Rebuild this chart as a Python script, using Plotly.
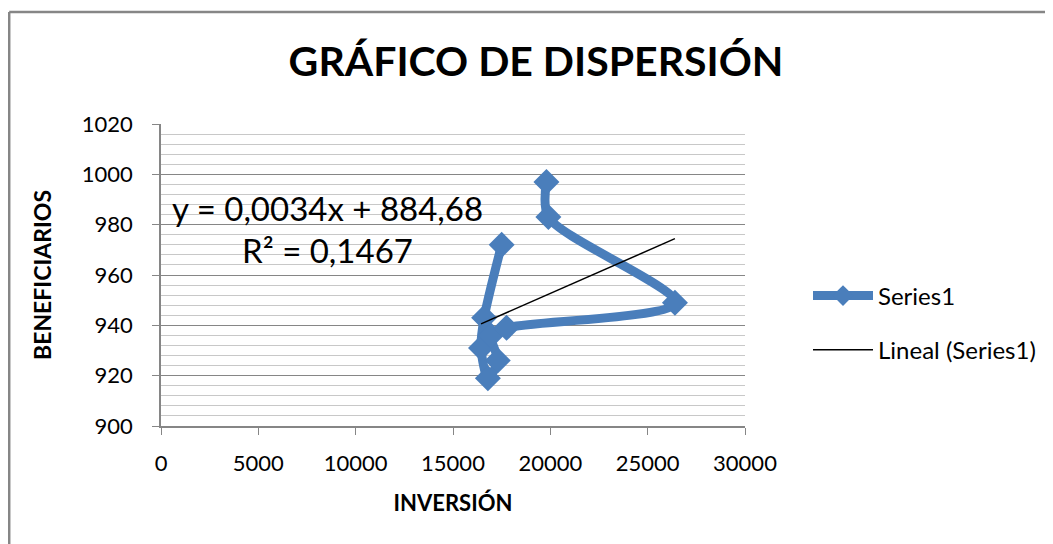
import plotly.graph_objects as go

# datos (en el orden de la serie)
inversion = [17500, 16600, 16440, 16790, 17300, 16950, 17750, 26400, 19900, 19800]
beneficiarios = [972, 943, 931, 919, 926, 936, 939, 949, 983, 997]

# línea de tendencia lineal según la ecuación mostrada
pendiente = 0.0034
intercepto = 884.68
texto_ecuacion = "y = 0,0034x + 884,68"
texto_r2 = "R² = 0,1467"

x_ticks = [0, 5000, 10000, 15000, 20000, 25000, 30000]
y_ticks = [900, 920, 940, 960, 980, 1000, 1020]

azul = '#4A7EBB'
gris = '#868686'
fuente = 'Lato, Calibri, Arial, sans-serif'

# la página tiene 8 px de margen en el body
OFF = 8
W, H = 1053 - OFF, 544 - OFF
L, R, T, B = 161 - OFF, 308, 124 - OFF, 118
pw, ph = W - L - R, H - T - B


def px_x(p):
    # p en píxeles de la ventana
    return (p - OFF - L) / pw


def px_y(p):
    return (H - B - (p - OFF)) / ph


x_tend = [min(inversion), max(inversion)]
y_tend = [pendiente * v + intercepto for v in x_tend]

fig = go.Figure()
fig.add_trace(go.Scatter(
    x=inversion, y=beneficiarios, name='Series1', mode='lines+markers',
    line=dict(color=azul, width=9, shape='spline', smoothing=0.8),
    marker=dict(symbol='diamond', size=20, color=azul),
    legendgroup='a'))
fig.add_trace(go.Scatter(
    x=x_tend, y=y_tend, name='Lineal (Series1)', mode='lines',
    line=dict(color='black', width=1.5), legendgroup='b'))

fig.add_annotation(x=px_x(327), y=px_y(208), xref='paper', yref='paper',
                   xanchor='center', yanchor='middle',
                   text=texto_ecuacion, showarrow=False,
                   font=dict(size=33, color='black', family=fuente))
fig.add_annotation(x=px_x(327), y=px_y(250), xref='paper', yref='paper',
                   xanchor='center', yanchor='middle',
                   text=texto_r2, showarrow=False,
                   font=dict(size=33, color='black', family=fuente))

# borde exterior del gráfico
fig.add_shape(type='line', xref='paper', yref='paper',
              x0=px_x(9.2), x1=px_x(1070), y0=px_y(12), y1=px_y(12),
              line=dict(color=gris, width=2.5))
fig.add_shape(type='line', xref='paper', yref='paper',
              x0=px_x(9.2), x1=px_x(9.2), y0=px_y(12), y1=px_y(560),
              line=dict(color=gris, width=2.5))

fig.update_layout(
    width=W, height=H,
    margin=dict(l=L, r=R, t=T, b=B),
    paper_bgcolor='white', plot_bgcolor='white',
    font=dict(family=fuente, color='black'),
    title=dict(text='<b>GRÁFICO DE DISPERSIÓN</b>', x=(536 - OFF) / W, xanchor='center',
               y=1 - (62 - OFF) / H, yanchor='middle', yref='container',
               font=dict(size=41, family=fuente, color='black')),
    showlegend=True,
    legend=dict(x=px_x(808), y=px_y(323), xanchor='left', yanchor='middle',
                font=dict(size=24, family=fuente), tracegroupgap=20,
                itemwidth=60,
                traceorder='grouped', bgcolor='rgba(0,0,0,0)'),
    xaxis=dict(range=[0, 30000], tickvals=x_ticks, tickformat='d', showgrid=False,
               showline=True, linecolor=gris, linewidth=1.5,
               ticks='outside', ticklen=7, tickcolor=gris,
               tickfont=dict(size=22), ticklabelstandoff=10, zeroline=False,
               title=dict(text='<b>INVERSIÓN</b>', font=dict(size=22), standoff=20)),
    yaxis=dict(range=[900, 1020], tickvals=y_ticks, showgrid=True,
               gridcolor=gris, gridwidth=1.2,
               showline=True, linecolor=gris, linewidth=1.5,
               ticks='outside', ticklen=7, tickcolor=gris,
               tickfont=dict(size=22), ticklabelstandoff=15, zeroline=False,
               minor=dict(dtick=4, showgrid=True, gridcolor='#c8c8c8', gridwidth=1),
               title=dict(text='<b>BENEFICIARIOS</b>', font=dict(size=23), standoff=24)),
)

fig.write_html("out.html")
